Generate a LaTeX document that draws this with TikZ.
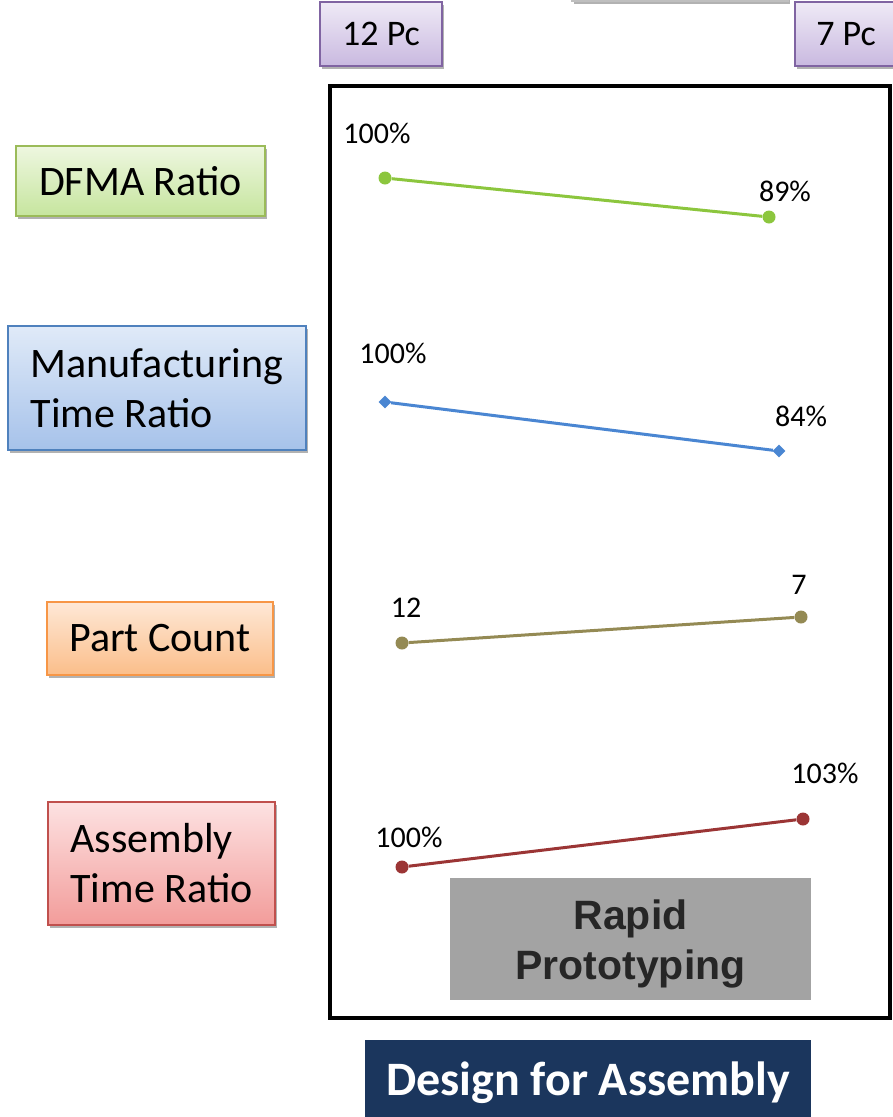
\documentclass[tikz,border=0pt]{standalone}
\usepackage{fontspec}
\setmainfont{Carlito}
\newfontfamily\arialfont{Liberation Sans}
\usetikzlibrary{shadows,shapes.geometric}
\definecolor{grnB}{HTML}{9BBB59}
\definecolor{grnT}{HTML}{EEF7E0}
\definecolor{grnM}{HTML}{C6E59E}
\definecolor{bluB}{HTML}{4F81BD}
\definecolor{bluT}{HTML}{E0EAF8}
\definecolor{bluM}{HTML}{A6C2EA}
\definecolor{orgB}{HTML}{F79646}
\definecolor{orgT}{HTML}{FEE8D6}
\definecolor{orgM}{HTML}{FBBE8A}
\definecolor{redB}{HTML}{C0504D}
\definecolor{redT}{HTML}{FDE2E2}
\definecolor{redM}{HTML}{F29C9A}
\definecolor{purB}{HTML}{8064A2}
\definecolor{purT}{HTML}{EFEAF6}
\definecolor{purM}{HTML}{C9B9E0}
\definecolor{gLine}{HTML}{8CC63E}
\definecolor{bLine}{HTML}{4A86D2}
\definecolor{oLine}{HTML}{948A54}
\definecolor{rLine}{HTML}{9B3535}
\definecolor{grayBox}{HTML}{A3A3A3}
\definecolor{grayTxt}{HTML}{262626}
\definecolor{navy}{HTML}{1B365D}
\begin{document}
\begin{tikzpicture}[x=1pt,y=-1pt,
  shbox/.style={line width=1.5pt, inner sep=0pt, align=left,
    drop shadow={shadow xshift=2pt, shadow yshift=-3pt, opacity=0.3, fill=black}},
  catlabel/.style={shbox, font=\fontsize{42}{50}\selectfont},
  pcbox/.style={shbox, draw=purB, top color=purT, bottom color=purM,
    font=\fontsize{36}{42}\selectfont, minimum height=64pt},
  val/.style={inner sep=0pt, font=\fontsize{30}{36}\selectfont},
  dot/.style={circle, fill=#1, inner sep=0pt, minimum size=13pt},
  dia/.style={diamond, fill=#1, inner sep=0pt, minimum size=13pt},
  dline/.style={draw=#1, line width=3pt}
]
\useasboundingbox (0,0) rectangle (893,1117);

% partially visible box at the top edge
\node[shbox, draw=black!25, fill=white, minimum width=216pt, minimum height=80pt] (topbox) at (680,-39) {};

% piece-count boxes
\node[pcbox, minimum width=122pt] (pc12) at (381,34) {12 Pc};
\node[pcbox, minimum width=102pt] (pc7) at (846,34) {7 Pc};

% main frame
\node[draw=black, line width=4pt, minimum width=560pt, minimum height=932pt, inner sep=0pt] (frame) at (610,552) {};

% category labels
\node[catlabel, draw=grnB, top color=grnT, bottom color=grnM, minimum width=249pt, minimum height=70pt] (dfma) at (140.5,181) {DFMA Ratio};
\node[catlabel, draw=bluB, top color=bluT, bottom color=bluM, minimum width=298pt, minimum height=124pt] (mtr) at (157,388) {Manufacturing\\Time Ratio};
\node[catlabel, draw=orgB, top color=orgT, bottom color=orgM, minimum width=226pt, minimum height=73pt] (pcnt) at (160,638.5) {Part Count};
\node[catlabel, draw=redB, top color=redT, bottom color=redM, minimum width=227pt, minimum height=123pt] (atr) at (161.5,863.5) {Assembly\\Time Ratio};

% DFMA ratio series
\node[dot=gLine] (g1) at (385,178) {};
\node[dot=gLine] (g2) at (769,217) {};
\draw[dline=gLine] (g1) -- (g2);
\node[val] (g1v) at (377,133) {100\%};
\node[val] (g2v) at (785,191) {89\%};

% manufacturing time ratio series
\node[dia=bLine] (b1) at (385,402) {};
\node[dia=bLine] (b2) at (779,451) {};
\draw[dline=bLine] (b1) -- (b2);
\node[val] (b1v) at (393,353) {100\%};
\node[val] (b2v) at (801,416) {84\%};

% part count series
\node[dot=oLine] (o1) at (402,643) {};
\node[dot=oLine] (o2) at (801,617) {};
\draw[dline=oLine] (o1) -- (o2);
\node[val] (o1v) at (406,608) {12};
\node[val] (o2v) at (799,585) {7};

% assembly time ratio series
\node[dot=rLine] (r1) at (402,867) {};
\node[dot=rLine] (r2) at (803,819) {};
\draw[dline=rLine] (r1) -- (r2);
\node[val] (r1v) at (409,837) {100\%};
\node[val] (r2v) at (825,773) {103\%};

% rapid prototyping box
\node[fill=grayBox, minimum width=361pt, minimum height=122pt, inner sep=0pt] (rpbox) at (630.5,939) {};
\node[align=center, inner sep=0pt, text=grayTxt, font=\arialfont\bfseries\fontsize{41}{50}\selectfont] (rptext) at (630.5,944) {Rapid\\Prototyping};

% design for assembly box
\node[fill=navy, text=white, minimum width=446pt, minimum height=86pt, inner sep=0pt,
  font=\bfseries\fontsize{48}{56}\selectfont] (dfa) at (588,1083) {Design for Assembly};
\end{tikzpicture}
\end{document}
